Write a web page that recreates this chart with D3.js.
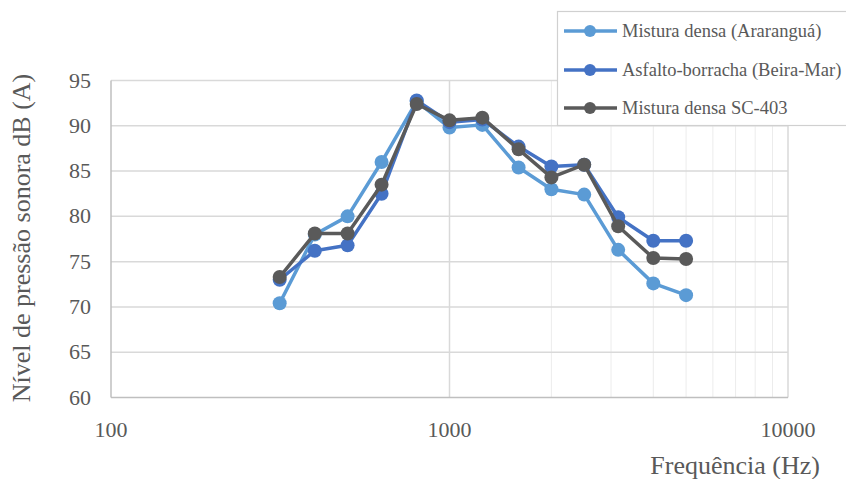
<!DOCTYPE html>
<html>
<head>
<meta charset="utf-8">
<script src="https://cdn.jsdelivr.net/npm/d3@7"></script>
<style>
  body { margin: 0; background: #fff; }
  svg { display: block; }
  text { font-family: "Liberation Serif", "DejaVu Serif", serif; }
</style>
</head>
<body>
<svg id="chart" width="846" height="479"></svg>
<script>
// frequencies of the 1/3 octave bands (Hz)
const freqs = [315, 400, 500, 630, 800, 1000, 1250, 1600, 2000, 2500, 3150, 4000, 5000];

// levels, dB(A)
const ararangua = [70.4, 78.0, 80.0, 86.0, 92.7, 89.8, 90.1, 85.4, 83.0, 82.4, 76.3, 72.6, 71.3];
const beiraMar  = [73.0, 76.2, 76.8, 82.5, 92.8, 90.4, 90.7, 87.7, 85.5, 85.7, 79.9, 77.3, 77.3];
const sc403     = [73.3, 78.1, 78.1, 83.5, 92.4, 90.6, 90.9, 87.4, 84.3, 85.7, 78.9, 75.4, 75.3];

const seriesNames  = ["Mistura densa (Araranguá)", "Asfalto-borracha (Beira-Mar)", "Mistura densa SC-403"];
const seriesColors = ["#5B9BD5", "#4472C4", "#5A5A5A"];
const yTicks = [60, 65, 70, 75, 80, 85, 90, 95];
const xTicks = [100, 1000, 10000];
const minorX = [2000, 3000, 4000, 5000, 6000, 7000, 8000, 9000];

const FONT = "'Liberation Serif', 'DejaVu Serif', serif";

const series = [ararangua, beiraMar, sc403].map((vals, i) => ({
  name: seriesNames[i],
  color: seriesColors[i],
  points: vals.map((v, j) => ({ f: freqs[j], v: v }))
}));

const svg = d3.select("#chart");
// plot area edges (window.top is taken, hence the prefix)
const pLeft = 111, pRight = 788, pTop = 80.5, pBottom = 397.5;

const x = d3.scaleLog().domain([100, 10000]).range([pLeft, pRight]);
const y = d3.scaleLinear().domain([60, 95]).range([pBottom, pTop]);

// minor grid (only drawn in the upper decade, like the original)
svg.append("g")
  .selectAll("line")
  .data(minorX)
  .join("line")
  .attr("x1", d => x(d)).attr("x2", d => x(d))
  .attr("y1", pTop).attr("y2", pBottom)
  .attr("stroke", "#ececec").attr("stroke-width", 1);

// horizontal major grid
svg.append("g")
  .selectAll("line")
  .data(yTicks.slice(1))
  .join("line")
  .attr("x1", pLeft).attr("x2", pRight)
  .attr("y1", d => y(d)).attr("y2", d => y(d))
  .attr("stroke", "#d9d9d9").attr("stroke-width", 1.5);

// vertical major grid
svg.append("g")
  .selectAll("line")
  .data(xTicks.slice(1))
  .join("line")
  .attr("x1", d => x(d)).attr("x2", d => x(d))
  .attr("y1", pTop).attr("y2", pBottom)
  .attr("stroke", "#d9d9d9").attr("stroke-width", 1.5);

// axis lines
svg.append("line")
  .attr("x1", pLeft).attr("x2", pLeft).attr("y1", pTop).attr("y2", pBottom)
  .attr("stroke", "#bfbfbf").attr("stroke-width", 1.5);
svg.append("line")
  .attr("x1", pLeft).attr("x2", pRight).attr("y1", pBottom).attr("y2", pBottom)
  .attr("stroke", "#bfbfbf").attr("stroke-width", 1.5);

// tick labels
svg.append("g")
  .selectAll("text")
  .data(yTicks)
  .join("text")
  .attr("x", 91).attr("y", d => y(d) + 7)
  .attr("text-anchor", "end")
  .attr("font-family", FONT)
  .attr("font-size", 22).attr("fill", "#595959")
  .text(d => d);

svg.append("g")
  .selectAll("text")
  .data(xTicks)
  .join("text")
  .attr("x", d => x(d)).attr("y", 437)
  .attr("text-anchor", "middle")
  .attr("font-family", FONT)
  .attr("font-size", 22).attr("fill", "#595959")
  .text(d => d);

// axis titles
svg.append("text")
  .attr("transform", "translate(30,238) rotate(-90)")
  .attr("text-anchor", "middle")
  .attr("font-family", FONT)
  .attr("font-size", 26).attr("fill", "#595959")
  .text("Nível de pressão sonora dB (A)");

svg.append("text")
  .attr("x", 820).attr("y", 474)
  .attr("text-anchor", "end")
  .attr("font-family", FONT)
  .attr("font-size", 26).attr("fill", "#595959")
  .text("Frequência (Hz)");

// lines + markers
const line = d3.line().x(d => x(d.f)).y(d => y(d.v));

const g = svg.append("g");
series.forEach(s => {
  g.append("path")
    .datum(s.points)
    .attr("d", line)
    .attr("fill", "none")
    .attr("stroke", s.color)
    .attr("stroke-width", 3.5)
    .attr("stroke-linejoin", "round");
  g.selectAll(null)
    .data(s.points)
    .join("circle")
    .attr("cx", d => x(d.f)).attr("cy", d => y(d.v))
    .attr("r", 7)
    .attr("fill", s.color);
});

// legend
const legend = svg.append("g");
legend.append("rect")
  .attr("x", 557.5).attr("y", 11.5).attr("width", 300).attr("height", 114)
  .attr("fill", "#fff").attr("stroke", "#d0d0d0").attr("stroke-width", 1.2);

const legendRows = [31, 70, 108];
series.forEach((s, i) => {
  const ly = legendRows[i];
  legend.append("line")
    .attr("x1", 564).attr("x2", 617).attr("y1", ly).attr("y2", ly)
    .attr("stroke", s.color).attr("stroke-width", 3.5);
  legend.append("circle")
    .attr("cx", 590).attr("cy", ly).attr("r", 6).attr("fill", s.color);
  legend.append("text")
    .attr("x", 622).attr("y", ly + 6)
    .attr("font-family", FONT)
    .attr("font-size", 18.5).attr("fill", "#595959")
    .text(s.name);
});
</script>
</body>
</html>
